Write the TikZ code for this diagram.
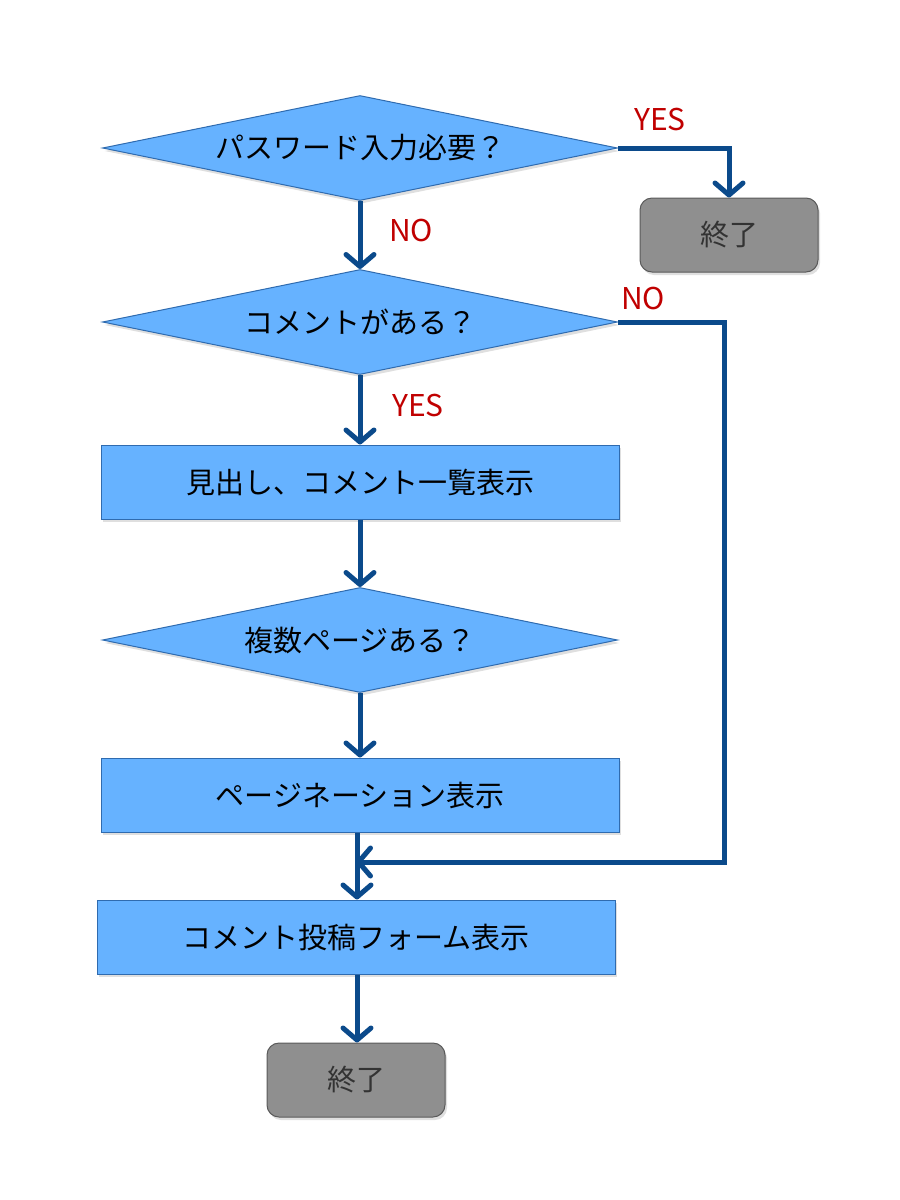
\documentclass[tikz,border=0pt]{standalone}
\usepackage{fontspec}
\setmainfont{Noto Sans CJK JP}
\usetikzlibrary{shapes.geometric,arrows.meta,shadows}
\definecolor{boxblue}{HTML}{66B2FF}
\definecolor{boxedge}{HTML}{2F6BAF}
\definecolor{linkblue}{HTML}{0B4A8B}
\definecolor{endgray}{HTML}{8F8F8F}
\definecolor{endedge}{HTML}{5A5A5A}
\definecolor{endtext}{HTML}{333333}
\definecolor{labred}{HTML}{C00000}
\tikzset{
  x=1pt, y=-1pt,
  softshadow/.style={drop shadow={opacity=0.25, shadow xshift=2pt, shadow yshift=-3pt}},
  decision/.style={diamond, aspect=4.9, minimum width=515pt, minimum height=105pt, inner sep=0pt,
    fill=boxblue, draw=boxedge, line width=1pt, font=\fontsize{29}{32}\selectfont, softshadow},
  process/.style={rectangle, minimum width=518pt, minimum height=74pt, inner sep=0pt,
    fill=boxblue, draw=boxedge, line width=1pt, font=\fontsize{29}{32}\selectfont, softshadow},
  terminal/.style={rectangle, rounded corners=12pt, minimum width=178pt, minimum height=74pt, inner sep=0pt,
    fill=endgray, draw=endedge, line width=1pt, text=endtext, font=\fontsize{29}{32}\selectfont, softshadow},
  link/.style={draw=linkblue, line width=5pt, line join=miter,
    -{Straight Barb[length=12pt, width=28pt, round]}},
  answer/.style={text=labred, font=\fontsize{30}{32}\selectfont, inner sep=0pt}
}
\begin{document}
\begin{tikzpicture}
\useasboundingbox (0,0) rectangle (900,1200);
\node[decision] (d1) at (360,148) {パスワード入力必要？};
\node[terminal] (e1) at (729,235) {終了};
\node[decision] (d2) at (360,322) {コメントがある？};
\node[process] (r1) at (360,482) {見出し、コメント一覧表示};
\node[decision] (d3) at (360,640) {複数ページある？};
\node[process] (r2) at (360,795) {ページネーション表示};
\node[process] (r3) at (356,937) {コメント投稿フォーム表示};
\node[terminal] (e2) at (356,1080) {終了};

\coordinate (turn) at (724,862);
\coordinate (merge) at (357,862);

\draw[link] (d1.south) -- (d2.north);
\draw[link] (d1.east) -| (e1.north);
\draw[link] (d2.south) -- (r1.north);
\draw[link, -] (d2.east) -| (turn) -- ([xshift=2pt]merge);
\draw[link, shorten >=-1pt] ([xshift=30pt]merge) -- (merge);
\draw[link] (r1.south) -- (d3.north);
\draw[link] (d3.south) -- (r2.north);
\draw[link] (r2.south -| merge) -- (r3.north -| merge);
\draw[link] (r3.south -| merge) -- (e2.north -| merge);

\node[answer] (no1) at (411,230) {NO};
\node[answer] (yes1) at (660,120) {YES};
\node[answer] (no2) at (643,298) {NO};
\node[answer] (yes2) at (418,405) {YES};
\end{tikzpicture}
\end{document}
